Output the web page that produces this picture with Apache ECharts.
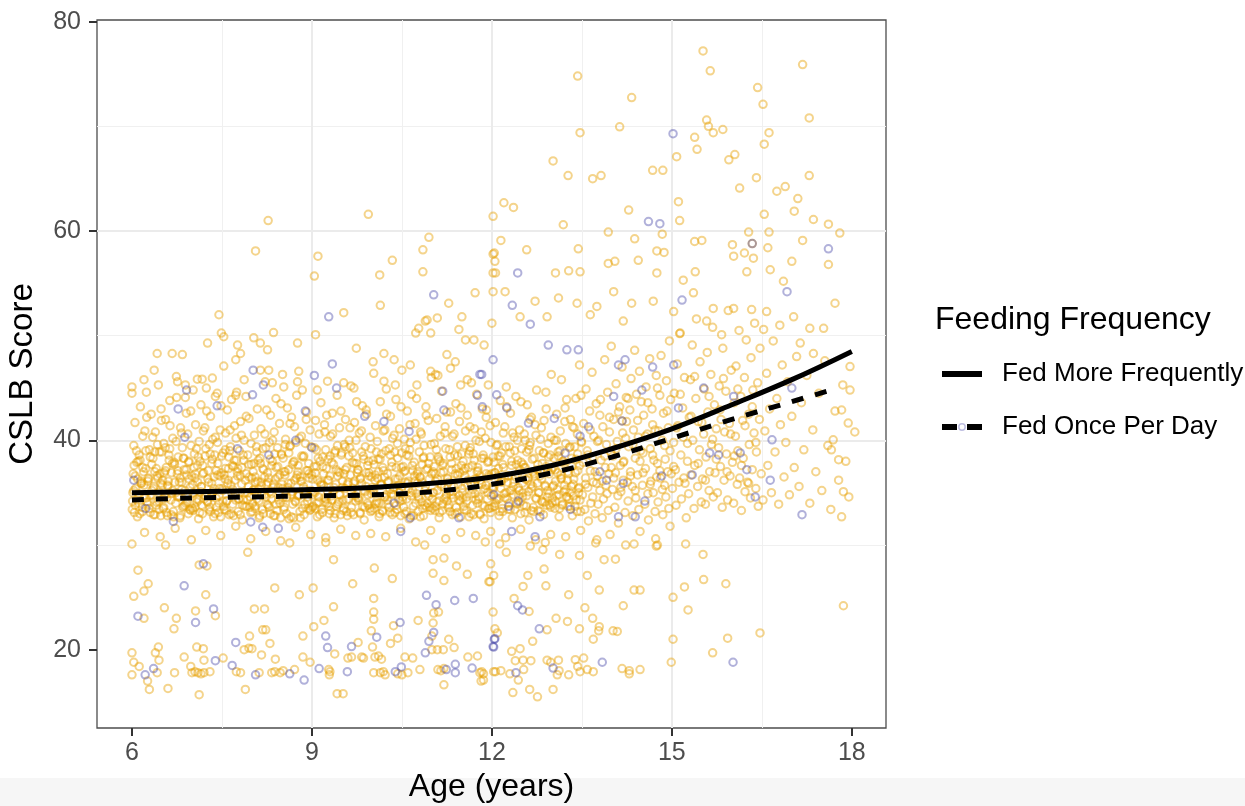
<!DOCTYPE html>
<html><head><meta charset="utf-8">
<script src="https://cdn.jsdelivr.net/npm/echarts@6/dist/echarts.min.js"></script>
<style>html,body{margin:0;padding:0;background:#fff}#c{width:1245px;height:806px}</style>
</head><body><div id="c"></div>
<script>
// ---- tick labels ----
const ageTicks = [6, 9, 12, 15, 18];
const scoreTicks = [20, 40, 60, 80];

// ---- fitted curves ----
const fitAgeMore = [6, 7, 8, 9, 10, 11, 12, 13, 14, 15, 16, 17, 18];
const fitMore    = [35.0, 35.1, 35.2, 35.3, 35.5, 35.9, 36.5, 37.6, 39.2, 41.1, 43.4, 45.8, 48.5];
const fitAgeOnce = [6, 7, 8, 9, 10, 11, 12, 13, 14, 15, 16, 17, 17.65];
const fitOnce    = [34.3, 34.5, 34.6, 34.7, 34.8, 35.1, 35.8, 36.9, 38.4, 40.2, 42.0, 43.7, 44.8];

// ---- Fed More Frequently: individual observations [age, score] ----
const fedMorePoints = [
[8.27,61.0],[8.06,58.1],[7.45,52.0],[9.1,57.6],[9.04,55.7],[9.94,61.6],[10.34,57.2],[10.13,55.8],[10.14,52.9],[9.53,52.2],[10.95,59.4],[10.85,58.2],[10.85,56.1],[11.28,53.1],[11.72,54.1],[11.5,51.8],[11.09,51.7],[10.92,51.5],[12.02,61.4],[12.02,57.8],[12.05,57.1],[12.02,56.0],[12.02,54.2],
[15.52,77.2],[15.64,75.3],[13.43,74.8],[14.33,72.75],[17.18,75.9],[16.43,73.7],[16.52,72.1],[17.29,70.8],[14.13,69.95],[13.47,69.4],[15.58,70.6],[15.61,70.0],[15.69,69.4],[15.85,69.7],[15.38,68.95],[15.42,67.8],[16.62,69.4],[16.54,68.3],[15.95,66.8],[16.05,67.3],[15.08,67.1],[13.02,66.7],[13.27,65.3],[13.68,65.0],[13.82,65.3],[14.68,65.8],[14.85,65.8],[16.41,65.1],[17.29,65.3],[16.13,64.1],[16.75,63.8],[16.89,64.25],[17.1,63.1],[17.04,61.9],[17.36,61.1],[17.61,60.65],[17.8,59.8],[16.54,61.6],[16.62,59.9],[16.6,58.4],[17.18,59.1],[16.28,59.9],[16.34,58.8],[16.21,57.9],[16.01,58.7],[15.38,59.0],[15.5,59.1],[15.11,62.8],[15.13,61.0],[14.84,59.7],[14.28,62.0],[14.38,59.25],[13.94,59.9],[13.19,60.6],[13.44,58.3],[14.75,58.1],[14.87,57.95],[12.58,58.2],[12.15,59.1],[12.2,62.7],[12.36,62.25],[12.04,57.9],
[12.06,56.0],[13.06,56.0],[13.28,56.2],[13.47,56.1],[13.94,56.9],[14.05,57.1],[14.44,57.2],[14.75,56.0],[15.19,55.3],[15.39,56.1],[16.03,57.6],[16.25,56.1],[16.36,57.4],[16.64,56.3],[17.0,57.1],[17.61,56.8],[16.86,55.2],[17.72,53.1],[12.22,54.2],[12.72,53.3],[13.11,53.6],[13.42,53.1],[13.75,52.8],[14.03,54.2],[14.33,53.1],[14.69,53.3],[15.03,52.3],[15.36,54.1],[15.69,52.6],[16.03,52.6],[16.33,52.5],[16.58,52.3],[17.03,51.8],[17.3,50.7],[17.53,50.7],[12.47,51.8],[12.92,51.8],[13.64,52.0],[14.19,51.4],[15.14,50.25],[15.58,51.4],[15.83,50.1],[16.53,50.6],[16.8,51.0],[17.14,49.3],[17.36,48.3],[17.97,47.05],[17.83,42.9],[17.94,41.65],[17.97,44.8],[17.69,40.05],[17.66,39.1],[17.78,38.15],[17.86,35.1],[17.83,32.7],[14.17,41.85],
[7.49,50.25],[7.53,49.9],[7.26,49.3],[6.42,48.3],[6.67,48.3],[6.84,48.2],[6.37,46.7],[6.2,45.8],[6.0,45.1],[6.0,44.5],[7.53,47.1],[7.73,47.7],[7.81,48.3],[7.76,49.1],[8.03,49.8],[8.14,49.3],[8.26,48.65],[8.36,50.3],[7.09,45.85],[7.17,45.85],[7.34,45.95],[6.89,45.3],[7.02,44.8],[6.76,45.6],[8.14,46.7],[8.28,46.7],[8.51,46.3],[8.76,45.6],[8.78,46.6],[9.06,50.1],[9.74,48.8],[10.02,47.5],[10.2,48.3],[10.37,47.7],[10.5,46.7],[10.64,47.2],[10.73,50.25],[10.78,50.7],[10.89,51.4],[10.98,50.25],[11.45,50.6],[11.56,49.6],[11.7,49.6],[11.87,49.1],[12.0,51.2],[11.25,48.2],[11.39,47.5],[10.98,46.6],[11.06,46.3],[11.1,46.2],[11.31,46.9],[11.48,45.3],[11.59,45.8],[11.94,45.3],[10.75,45.3],[10.39,45.3],[10.2,45.65],[10.03,46.4],[9.53,45.5],[9.26,45.65],[9.09,44.8],[9.7,45.0],[8.53,45.1],[8.34,45.5],[7.87,45.8],[7.73,44.3],[7.39,44.2],[8.76,49.3],
[6.0,30.1],[6.56,30.0],[6.1,27.6],[6.03,25.1],[6.2,25.6],[6.27,26.3],[6.2,23.0],[6.54,24.0],[6.74,23.0],[6.7,22.0],[7.06,23.7],[7.23,25.25],[7.12,28.1],[7.25,28.0],[7.39,23.25],[6.87,19.3],[6.0,19.7],[6.03,18.8],[6.0,17.6],[6.12,18.4],[6.26,17.0],[6.29,16.2],[6.44,20.25],[6.39,19.7],[6.45,19.0],[6.42,17.8],[6.6,16.3],[6.71,17.8],[7.0,17.8],[7.05,17.9],[7.1,17.8],[7.15,17.7],[7.2,17.8],[7.3,17.9],[7.08,20.25],[7.19,20.1],[7.12,15.7],[6.98,18.4],[7.2,19.0],[7.52,19.2],[7.74,17.9],[7.81,17.8],[7.87,20.0],[7.95,20.15],[8.0,20.1],[7.96,21.3],[7.93,29.3],[8.04,23.9],[8.21,23.9],[8.18,21.9],[8.23,21.9],[8.3,20.6],[8.16,19.5],[8.12,17.8],[7.89,16.2],[8.33,17.8],[8.38,17.9],[8.47,17.8],[8.39,19.1],[8.38,25.9],[8.63,30.2],[8.79,25.25],[8.85,21.3],[8.85,19.3],[8.71,18.1],[8.52,18.0],[8.97,18.8],[9.02,25.9],[9.03,22.2],[9.2,22.8],[9.23,30.25],[9.36,28.6],[9.36,24.1],[9.28,18.1],[9.3,17.9],[9.29,17.6],[9.38,19.6],[9.42,15.8],[9.52,15.8],[9.6,19.2],[9.66,19.3],[9.68,26.3],[9.77,20.7],[9.83,19.3],[9.86,19.2],[10.04,27.8],[10.03,24.9],[10.03,23.6],[10.03,22.9],[9.99,21.8],[10.01,20.25],[10.05,19.3],[10.11,19.4],[10.16,19.1],[10.03,17.8],[10.14,17.8],[10.19,17.9],[10.22,17.6],[10.34,26.8],[10.36,22.3],[10.31,20.6],[10.43,21.1],[10.43,17.7],[10.5,17.6],[10.6,17.8],[10.55,19.3],[10.68,19.2],[10.77,22.8],[10.8,18.1],[10.88,30.0],[11.0,21.3],[11.02,22.55],[11.03,23.5],[11.11,23.6],[11.02,28.6],[11.2,28.75],[11.2,26.6],[11.02,27.3],[11.41,28.0],[11.59,27.2],[11.95,26.5],[11.98,28.2],[11.28,21.0],[11.37,20.2],[11.0,20.0],[11.09,20.0],[11.19,20.0],[11.2,16.65],[11.1,18.1],[11.15,18.0],[11.2,18.2],[11.6,19.3],[11.76,19.4],[11.8,17.8],[11.86,17.7],[11.82,17.0],[12.03,17.9],[12.05,22.0],[12.02,23.6],
[11.89,30.3],[12.13,30.1],[12.64,29.9],[12.85,29.55],[12.89,30.25],[12.24,29.3],[13.13,29.1],[13.46,29.0],[13.75,30.5],[13.87,28.6],[14.06,28.65],[14.37,30.1],[14.74,29.9],[14.76,30.0],[15.23,30.1],[15.52,29.1],[12.03,27.1],[11.97,26.5],[12.6,27.1],[12.87,27.7],[12.9,26.1],[12.52,26.05],[13.59,27.1],[13.79,25.7],[14.37,25.7],[14.47,25.7],[15.02,25.0],[15.21,26.0],[15.53,26.7],[15.9,26.3],[15.27,23.8],[12.37,24.9],[12.62,23.65],[13.28,25.25],[13.55,24.0],[13.07,23.0],[13.26,22.7],[13.68,23.0],[14.19,24.2],[12.92,21.9],[13.46,22.0],[13.79,22.2],[13.78,21.8],[13.69,21.0],[14.02,21.8],[14.09,21.75],[12.68,20.8],[12.09,21.6],[12.33,19.85],[12.47,20.1],[12.39,18.95],[12.52,19.0],[12.65,18.95],[12.92,19.0],[12.98,18.8],[13.11,19.0],[13.39,19.05],[13.53,19.2],[13.43,18.4],[12.06,17.9],[12.15,18.0],[12.3,17.7],[11.83,17.9],[11.86,17.1],[12.53,18.1],[12.44,17.1],[12.35,15.9],[12.63,16.2],[12.76,15.5],[13.02,16.2],[13.09,17.6],[13.28,17.6],[13.12,18.0],[13.47,17.9],[13.59,18.1],[13.69,17.9],[14.17,18.2],[14.29,18.0],[14.29,17.7],[14.47,18.1],[14.99,18.8],[15.02,21.0],[15.68,19.7],[15.93,21.1],[16.47,21.6],[17.86,24.2],
[6.01,34.2],[6.02,36.8],[6.03,39.5],[6.04,33.1],[6.05,41.7],[6.06,35.4],[6.08,37.9],[6.09,32.7],[6.11,34.9],[6.12,38.6],[6.14,43.2],[6.15,36.1],[6.17,33.6],[6.18,40.4],[6.2,35.7],[6.21,31.2],[6.23,37.3],[6.24,44.6],
[6.26,33.9],[6.27,36.4],[6.29,39.1],[6.3,34.7],[6.32,42.5],[6.33,35.2],[6.35,38.3],[6.36,32.9],[6.38,37.0],[6.39,40.8],[6.41,34.1],[6.42,36.6],[6.44,45.3],[6.45,33.4],[6.46,38.9],[6.47,30.8],[6.48,35.9],[6.49,41.9],
[6.51,36.2],[6.52,33.5],[6.53,39.7],[6.55,34.8],[6.56,42.0],[6.57,37.4],[6.59,32.8],[6.6,35.6],[6.62,38.1],[6.63,43.8],[6.65,34.3],[6.66,36.9],[6.68,40.2],[6.69,33.2],[6.71,37.7],[6.72,31.6],[6.73,35.0],[6.74,46.1],
[6.76,34.6],[6.77,38.4],[6.79,36.0],[6.8,32.6],[6.81,41.2],[6.83,35.3],[6.84,39.3],[6.86,33.7],[6.87,37.2],[6.89,44.1],[6.9,34.0],[6.91,36.7],[6.93,40.6],[6.94,33.0],[6.95,38.0],[6.97,35.5],[6.98,42.8],[6.99,30.5],
[7.01,35.8],[7.02,33.3],[7.04,38.7],[7.05,36.4],[7.06,41.5],[7.08,34.4],[7.09,37.6],[7.11,32.5],[7.12,39.9],[7.14,35.1],[7.15,43.4],[7.16,33.8],[7.18,36.8],[7.19,40.9],[7.21,34.7],[7.22,38.5],[7.23,31.4],[7.24,45.0],
[7.26,34.1],[7.27,37.1],[7.29,39.6],[7.3,33.6],[7.31,42.3],[7.33,35.9],[7.34,38.2],[7.36,32.7],[7.37,36.5],[7.39,40.3],[7.4,34.5],[7.42,44.5],[7.43,37.8],[7.44,33.1],[7.46,35.4],[7.47,41.0],[7.48,30.9],[7.49,36.9],
[7.51,35.2],[7.52,38.8],[7.54,33.4],[7.55,36.3],[7.56,40.7],[7.58,34.2],[7.59,42.9],[7.61,37.3],[7.62,32.9],[7.64,39.4],[7.65,35.7],[7.66,43.9],[7.68,33.9],[7.69,37.5],[7.71,41.4],[7.72,34.9],[7.73,31.8],[7.74,38.1],
[7.76,36.6],[7.77,33.2],[7.79,39.0],[7.8,35.0],[7.81,41.8],[7.83,37.4],[7.84,32.4],[7.86,34.3],[7.87,40.0],[7.89,36.2],[7.9,44.2],[7.91,33.7],[7.93,38.6],[7.94,35.6],[7.95,42.1],[7.97,34.6],[7.98,30.6],[7.99,37.7],
[8.01,34.0],[8.02,37.0],[8.04,40.5],[8.05,33.5],[8.06,36.0],[8.08,38.9],[8.09,43.0],[8.11,35.3],[8.12,32.6],[8.14,37.8],[8.15,41.1],[8.16,34.8],[8.18,39.2],[8.19,33.0],[8.21,36.5],[8.22,45.6],[8.23,31.3],[8.24,35.8],
[8.26,36.9],[8.27,33.8],[8.29,39.8],[8.3,35.1],[8.31,42.4],[8.33,34.4],[8.34,38.0],[8.36,32.8],[8.37,40.8],[8.39,36.3],[8.4,44.0],[8.42,33.3],[8.43,37.5],[8.44,35.5],[8.46,41.6],[8.47,34.0],[8.48,30.4],[8.49,38.7],
[8.51,35.4],[8.52,38.3],[8.54,33.6],[8.55,36.7],[8.56,40.1],[8.58,34.5],[8.59,43.1],[8.61,37.2],[8.62,32.5],[8.64,39.5],[8.65,35.9],[8.66,42.2],[8.68,33.9],[8.69,37.9],[8.71,41.3],[8.72,34.2],[8.73,31.7],[8.74,36.4],
[8.76,34.7],[8.77,37.6],[8.79,40.2],[8.8,33.2],[8.81,36.1],[8.83,38.5],[8.84,44.8],[8.86,35.6],[8.87,32.9],[8.89,39.7],[8.9,34.9],[8.91,42.7],[8.93,37.1],[8.94,33.5],[8.95,36.8],[8.97,41.0],[8.98,31.0],[8.99,35.2],
[9.01,36.3],[9.02,33.7],[9.04,39.3],[9.05,35.0],[9.06,41.9],[9.08,37.5],[9.09,32.7],[9.11,34.6],[9.12,40.6],[9.14,36.0],[9.15,43.6],[9.16,33.4],[9.18,38.4],[9.19,35.7],[9.21,41.5],[9.22,34.1],[9.23,30.7],[9.24,37.3],
[9.26,35.1],[9.27,38.2],[9.29,33.0],[9.3,36.6],[9.31,40.4],[9.33,34.3],[9.34,42.6],[9.36,37.7],[9.37,32.6],[9.39,39.0],[9.4,35.8],[9.42,44.3],[9.43,33.9],[9.44,37.0],[9.46,41.2],[9.47,34.8],[9.48,31.5],[9.49,38.6],
[9.51,36.1],[9.52,33.3],[9.54,39.6],[9.55,35.4],[9.56,42.0],[9.58,37.4],[9.59,32.8],[9.61,34.4],[9.62,40.0],[9.64,36.7],[9.65,45.2],[9.66,33.6],[9.68,38.8],[9.69,35.9],[9.71,41.7],[9.72,34.7],[9.73,30.9],[9.74,37.8],
[9.76,34.5],[9.77,37.2],[9.79,40.7],[9.8,33.1],[9.81,36.4],[9.83,38.9],[9.84,43.3],[9.86,35.2],[9.87,32.4],[9.89,39.4],[9.9,35.6],[9.91,42.5],[9.93,37.6],[9.94,33.8],[9.95,36.9],[9.97,40.3],[9.98,31.1],[9.99,34.9],
[10.01,35.5],[10.02,38.1],[10.04,33.5],[10.05,36.2],[10.06,41.4],[10.08,34.0],[10.09,39.9],[10.11,37.0],[10.12,32.7],[10.14,43.7],[10.15,35.8],[10.16,38.7],[10.18,33.2],[10.19,40.9],[10.21,36.5],[10.22,34.6],[10.23,30.8],[10.24,44.9],
[10.26,36.8],[10.27,33.9],[10.29,39.2],[10.3,35.3],[10.31,42.3],[10.33,37.9],[10.34,32.9],[10.36,34.8],[10.37,40.5],[10.39,36.3],[10.4,43.9],[10.42,33.4],[10.43,38.3],[10.44,35.7],[10.46,41.1],[10.47,34.2],[10.48,31.6],[10.49,37.4],
[10.51,34.3],[10.52,37.5],[10.54,40.1],[10.55,33.0],[10.56,36.0],[10.58,38.6],[10.59,42.8],[10.61,35.4],[10.62,32.5],[10.64,39.8],[10.65,35.0],[10.66,44.4],[10.68,37.1],[10.69,33.7],[10.71,36.6],[10.72,41.6],[10.73,30.3],[10.74,34.9],
[10.76,35.9],[10.77,33.2],[10.79,38.9],[10.8,36.5],[10.81,40.8],[10.83,34.1],[10.84,37.7],[10.86,32.8],[10.87,39.5],[10.89,35.6],[10.9,43.2],[10.91,33.6],[10.93,37.3],[10.94,41.9],[10.95,34.7],[10.97,38.4],[10.98,31.4],[10.99,46.0],
[11.01,34.4],[11.02,37.0],[11.04,39.7],[11.05,33.3],[11.06,36.1],[11.08,42.1],[11.09,35.2],[11.11,38.2],[11.12,32.6],[11.14,40.4],[11.15,36.9],[11.16,44.7],[11.18,33.9],[11.19,37.8],[11.21,35.5],[11.22,41.3],[11.23,30.6],[11.24,34.8],
[11.26,36.4],[11.27,33.6],[11.29,39.1],[11.3,35.1],[11.31,42.7],[11.33,37.2],[11.34,32.9],[11.36,34.5],[11.37,40.6],[11.39,36.8],[11.4,43.5],[11.42,33.1],[11.43,38.5],[11.44,35.8],[11.46,41.8],[11.47,34.2],[11.48,31.2],[11.49,37.6],
[11.51,35.0],[11.52,38.0],[11.54,33.4],[11.55,36.6],[11.56,40.9],[11.58,34.6],[11.59,42.4],[11.61,37.4],[11.62,32.7],[11.64,39.3],[11.65,35.9],[11.66,45.5],[11.68,33.8],[11.69,38.7],[11.71,41.1],[11.72,34.9],[11.73,30.9],[11.74,36.3],
[11.76,34.0],[11.77,37.1],[11.79,39.9],[11.8,33.0],[11.81,36.2],[11.83,38.3],[11.84,43.0],[11.86,35.3],[11.87,32.5],[11.89,40.2],[11.9,35.7],[11.91,42.9],[11.93,37.9],[11.94,33.5],[11.95,36.7],[11.97,41.4],[11.98,31.3],[11.99,34.7],
[12.01,35.6],[12.02,38.4],[12.04,33.7],[12.05,36.9],[12.06,41.7],[12.08,34.3],[12.09,39.6],[12.11,37.3],[12.12,32.8],[12.14,43.8],[12.15,35.4],[12.16,38.8],[12.18,33.2],[12.19,40.7],[12.21,36.4],[12.22,34.5],[12.23,30.7],[12.24,45.1],
[12.26,36.0],[12.27,33.4],[12.29,39.4],[12.3,35.2],[12.31,42.6],[12.33,37.6],[12.34,32.6],[12.36,34.8],[12.37,40.3],[12.39,36.5],[12.4,44.2],[12.42,33.9],[12.43,38.1],[12.44,35.5],[12.46,41.0],[12.47,34.1],[12.48,31.5],[12.49,37.9],
[12.51,34.6],[12.52,37.7],[12.54,40.6],[12.55,33.1],[12.56,36.3],[12.58,38.9],[12.59,43.4],[12.61,35.1],[12.62,32.4],[12.64,39.8],[12.65,35.8],[12.66,42.2],[12.68,37.0],[12.69,33.6],[12.71,36.8],[12.72,41.5],[12.73,30.5],[12.74,34.4],
[12.76,35.9],[12.77,33.3],[12.79,39.0],[12.8,36.6],[12.81,40.1],[12.83,34.2],[12.84,37.8],[12.86,32.9],[12.87,41.9],[12.89,35.6],[12.9,44.6],[12.91,33.8],[12.93,37.2],[12.94,39.7],[12.95,34.9],[12.97,38.6],[12.98,31.0],[12.99,46.3],
[13.01,34.5],[13.02,37.4],[13.04,40.0],[13.05,33.5],[13.06,36.1],[13.08,42.5],[13.09,35.3],[13.11,38.5],[13.12,32.7],[13.14,40.9],[13.15,36.7],[13.16,45.8],[13.18,33.9],[13.19,38.0],[13.21,35.7],[13.22,43.1],[13.23,30.8],[13.24,34.6],
[13.26,36.2],[13.27,33.7],[13.29,39.3],[13.3,35.0],[13.31,42.0],[13.33,37.5],[13.34,32.8],[13.36,34.7],[13.37,41.2],[13.39,36.9],[13.4,44.0],[13.42,33.2],[13.43,38.7],[13.44,35.4],[13.46,47.2],[13.47,34.3],[13.48,31.4],[13.49,39.9],
[13.51,34.8],[13.52,37.9],[13.53,41.6],[13.55,33.4],[13.56,36.4],[13.57,44.9],[13.59,39.0],[13.6,35.5],[13.61,32.3],[13.63,42.8],[13.64,37.1],[13.65,34.0],[13.67,46.5],[13.68,38.4],[13.69,36.0],[13.7,40.4],[13.72,33.0],[13.73,30.2],[13.74,43.5],[13.745,35.9],
[13.76,36.6],[13.77,33.9],[13.78,40.0],[13.8,35.2],[13.81,43.9],[13.82,38.1],[13.84,32.6],[13.85,41.3],[13.86,34.4],[13.88,47.7],[13.89,37.4],[13.9,35.7],[13.91,39.6],[13.93,44.6],[13.94,33.3],[13.95,36.8],[13.96,42.2],[13.97,31.0],[13.98,38.9],[13.99,49.0],
[14.01,35.3],[14.02,38.5],[14.03,42.0],[14.05,33.6],[14.06,36.9],[14.07,45.4],[14.09,39.9],[14.1,34.7],[14.11,32.1],[14.13,43.2],[14.14,37.6],[14.15,35.1],[14.17,47.0],[14.18,40.7],[14.19,36.2],[14.2,38.0],[14.22,33.1],[14.23,30.0],[14.24,44.1],[14.245,41.8],
[14.26,36.0],[14.27,34.2],[14.28,39.4],[14.3,42.9],[14.31,37.0],[14.32,45.9],[14.34,35.6],[14.35,32.8],[14.36,41.0],[14.38,48.6],[14.39,38.3],[14.4,34.5],[14.41,44.4],[14.43,36.7],[14.44,40.3],[14.45,33.4],[14.46,46.6],[14.47,31.3],[14.48,39.0],[14.49,43.7],
[14.51,35.7],[14.52,38.8],[14.53,42.4],[14.55,33.9],[14.56,37.3],[14.57,45.1],[14.59,40.6],[14.6,34.9],[14.61,32.4],[14.63,47.8],[14.64,39.2],[14.65,36.1],[14.67,43.0],[14.68,41.5],[14.69,35.0],[14.7,38.1],[14.72,33.2],[14.73,30.6],[14.74,46.2],[14.745,36.5],
[14.76,37.8],[14.77,34.1],[14.78,40.9],[14.8,44.3],[14.81,36.4],[14.82,48.1],[14.84,35.3],[14.85,32.9],[14.86,42.6],[14.88,39.5],[14.89,38.2],[14.9,34.6],[14.91,45.7],[14.93,37.0],[14.94,41.2],[14.95,33.5],[14.96,49.5],[14.97,31.8],[14.98,43.9],[14.99,36.8],
[15.01,35.4],[15.03,39.8],[15.04,44.5],[15.06,37.2],[15.07,33.8],[15.09,47.3],[15.1,41.4],[15.12,36.0],[15.13,50.2],[15.15,38.6],[15.16,34.4],[15.18,43.1],[15.19,40.3],[15.21,46.0],[15.22,35.9],[15.24,32.6],
[15.26,38.0],[15.28,34.9],[15.29,42.2],[15.31,45.8],[15.32,36.7],[15.34,49.1],[15.35,40.0],[15.37,33.5],[15.38,37.6],[15.4,44.0],[15.41,51.6],[15.43,35.6],[15.44,41.8],[15.46,39.1],[15.47,47.5],[15.49,34.1],
[15.51,36.3],[15.53,40.6],[15.54,44.9],[15.56,33.9],[15.57,38.4],[15.59,48.4],[15.6,42.7],[15.62,35.2],[15.63,37.0],[15.65,46.3],[15.66,39.6],[15.68,50.8],[15.69,34.6],[15.71,43.4],[15.72,36.9],[15.74,41.1],
[15.76,35.0],[15.78,39.3],[15.79,45.2],[15.81,37.5],[15.82,42.0],[15.84,33.6],[15.85,48.8],[15.87,36.2],[15.88,40.8],[15.9,44.7],[15.91,38.7],[15.93,34.3],[15.94,52.4],[15.96,41.6],[15.97,36.6],[15.99,46.7],
[16.01,37.9],[16.03,34.0],[16.04,43.6],[16.06,40.4],[16.07,47.1],[16.09,35.8],[16.1,39.0],[16.12,50.5],[16.13,36.4],[16.15,44.2],[16.16,33.3],[16.18,41.9],[16.19,38.3],[16.21,46.0],[16.22,35.1],[16.24,49.6],
[16.26,36.0],[16.28,42.5],[16.29,39.6],[16.31,34.5],[16.32,47.9],[16.34,37.2],[16.35,44.8],[16.37,40.7],[16.38,51.2],[16.4,35.4],[16.41,38.9],[16.43,45.5],[16.44,33.7],[16.46,42.0],[16.47,48.8],[16.49,36.8],
[16.52,34.3],[16.55,40.9],[16.58,46.4],[16.6,37.6],[16.63,43.0],[16.66,35.0],[16.69,49.5],[16.72,38.9],[16.75,44.0],[16.78,33.9],[16.81,41.5],[16.84,47.2],[16.87,36.5],[16.9,39.8],[16.93,45.6],[16.96,34.8],[17.0,42.3],[17.04,37.4],[17.08,48.0],[17.12,35.6],[17.16,43.6],[17.2,39.1],[17.25,46.2],[17.3,34.0],[17.35,41.0],[17.4,37.0],[17.45,44.5],[17.5,35.2],[17.55,47.6],[17.6,39.5],[17.65,33.4],[17.72,42.8],[17.78,36.2],[17.85,45.3],[17.9,38.0],[17.95,34.6],[18.05,40.8],
[6.015,35.0],[6.035,37.6],[6.055,33.8],[6.075,39.0],[6.095,36.3],[6.115,34.0],[6.135,38.1],[6.155,35.9],[6.175,33.2],[6.195,37.0],[6.215,40.9],[6.235,34.5],[6.245,42.2],
[6.265,36.1],[6.285,33.5],[6.305,38.4],[6.325,34.8],[6.345,40.3],[6.365,35.6],[6.385,32.9],[6.405,37.3],[6.425,39.6],[6.445,34.2],[6.465,36.8],[6.485,43.0],[6.495,38.9],
[6.515,34.4],[6.535,36.9],[6.555,39.3],[6.575,33.1],[6.595,35.7],[6.615,38.6],[6.635,41.4],[6.655,34.9],[6.675,37.8],[6.695,32.7],[6.715,36.0],[6.735,39.9],[6.745,44.1],
[6.765,37.1],[6.785,34.6],[6.805,36.4],[6.825,40.7],[6.845,33.6],[6.865,38.3],[6.885,35.2],[6.905,42.6],[6.925,34.1],[6.945,37.9],[6.965,33.4],[6.985,39.5],[6.995,36.6],
[7.015,34.9],[7.035,37.4],[7.055,33.6],[7.075,39.2],[7.095,36.0],[7.115,34.3],[7.135,38.0],[7.155,35.6],[7.175,33.0],[7.195,36.9],[7.215,41.2],[7.235,34.7],[7.245,42.8],
[7.265,36.3],[7.285,33.4],[7.305,38.7],[7.325,34.6],[7.345,40.1],[7.365,35.4],[7.385,33.0],[7.405,37.1],[7.425,39.8],[7.445,34.0],[7.465,36.6],[7.485,43.3],[7.495,38.5],
[7.515,34.2],[7.535,36.7],[7.555,39.1],[7.575,33.3],[7.595,35.9],[7.615,38.4],[7.635,41.0],[7.655,35.1],[7.675,37.6],[7.695,32.8],[7.715,36.2],[7.735,40.2],[7.745,44.6],
[7.765,37.3],[7.785,34.4],[7.805,36.6],[7.825,40.5],[7.845,33.8],[7.865,38.1],[7.885,35.0],[7.905,42.3],[7.925,34.3],[7.945,37.7],[7.965,33.6],[7.985,39.7],[7.995,36.4],
[8.015,35.2],[8.035,37.8],[8.055,33.7],[8.075,39.4],[8.095,36.1],[8.115,34.2],[8.135,38.3],[8.155,35.7],[8.175,33.4],[8.195,37.2],[8.215,40.6],[8.235,34.6],[8.245,42.9],
[8.265,36.0],[8.285,33.6],[8.305,38.2],[8.325,34.9],[8.345,40.0],[8.365,35.8],[8.385,32.8],[8.405,37.4],[8.425,39.3],[8.445,34.3],[8.465,36.7],[8.485,43.5],[8.495,38.6],
[8.515,34.5],[8.535,37.0],[8.555,39.6],[8.575,33.0],[8.595,35.5],[8.615,38.8],[8.635,41.6],[8.655,34.8],[8.675,37.7],[8.695,32.6],[8.715,36.2],[8.735,39.8],[8.745,44.3],
[8.765,37.0],[8.785,34.7],[8.805,36.5],[8.825,40.4],[8.845,33.5],[8.865,38.5],[8.885,35.3],[8.905,42.0],[8.925,34.2],[8.945,37.8],[8.965,33.3],[8.985,39.4],[8.995,36.7],
[9.015,34.8],[9.035,37.5],[9.055,33.5],[9.075,39.1],[9.095,36.2],[9.115,34.1],[9.135,38.0],[9.155,35.8],[9.175,33.1],[9.195,36.8],[9.215,40.8],[9.235,34.4],[9.245,42.4],
[9.265,36.2],[9.285,33.7],[9.305,38.5],[9.325,34.7],[9.345,40.6],[9.365,35.5],[9.385,33.0],[9.405,37.2],[9.425,39.5],[9.445,34.1],[9.465,36.9],[9.485,42.8],[9.495,38.8],
[9.515,34.3],[9.535,36.8],[9.555,39.4],[9.575,33.2],[9.595,35.8],[9.615,38.5],[9.635,41.2],[9.655,35.0],[9.675,37.9],[9.695,32.9],[9.715,36.1],[9.735,40.0],[9.745,43.7],
[9.765,37.2],[9.785,34.5],[9.805,36.3],[9.825,40.9],[9.845,33.7],[9.865,38.2],[9.885,35.1],[9.905,42.9],[9.925,34.0],[9.945,38.0],[9.965,33.5],[9.985,39.2],[9.995,36.5],
[10.015,35.1],[10.035,37.7],[10.055,33.9],[10.075,38.9],[10.095,36.4],[10.115,34.0],[10.135,38.2],[10.155,35.7],[10.175,33.3],[10.195,37.1],[10.215,41.0],[10.235,34.8],[10.245,42.5],
[10.265,36.0],[10.285,33.6],[10.305,38.6],[10.325,34.9],[10.345,40.2],[10.365,35.5],[10.385,33.1],[10.405,37.4],[10.425,39.7],[10.445,34.4],[10.465,36.6],[10.485,43.2],[10.495,38.8],
[10.515,34.6],[10.535,37.0],[10.555,39.2],[10.575,33.2],[10.595,35.9],[10.615,38.5],[10.635,41.5],[10.655,34.7],[10.675,37.6],[10.695,32.8],[10.715,36.1],[10.735,40.1],[10.745,44.0],
[10.765,37.0],[10.785,34.4],[10.805,36.5],[10.825,40.6],[10.845,33.5],[10.865,38.4],[10.885,35.2],[10.905,42.4],[10.925,34.0],[10.945,37.8],[10.965,33.6],[10.985,39.6],[10.995,36.8],
[11.015,35.0],[11.035,37.5],[11.055,33.7],[11.075,39.1],[11.095,36.3],[11.115,34.2],[11.135,38.0],[11.155,35.8],[11.175,33.3],[11.195,37.0],[11.215,40.7],[11.235,34.6],[11.245,42.7],
[11.265,36.3],[11.285,33.8],[11.305,38.4],[11.325,34.8],[11.345,40.4],[11.365,35.6],[11.385,33.0],[11.405,37.3],[11.425,39.4],[11.445,34.3],[11.465,36.9],[11.485,43.1],[11.495,38.7],
[11.515,34.5],[11.535,37.1],[11.555,39.5],[11.575,33.3],[11.595,35.7],[11.615,38.7],[11.635,41.3],[11.655,34.9],[11.675,37.6],[11.695,32.9],[11.715,36.3],[11.735,40.0],[11.745,44.4],
[11.765,37.4],[11.785,34.6],[11.805,36.6],[11.825,40.8],[11.845,33.8],[11.865,38.3],[11.885,35.4],[11.905,42.2],[11.925,34.4],[11.945,38.0],[11.965,33.5],[11.985,39.8],[11.995,36.8],
[12.015,35.3],[12.035,37.9],[12.055,34.0],[12.075,39.5],[12.095,36.5],[12.115,34.4],[12.135,38.5],[12.155,36.0],[12.175,33.5],[12.195,37.4],[12.215,41.3],[12.235,35.0],[12.245,43.2],
[12.265,36.6],[12.285,34.0],[12.305,38.8],[12.325,35.2],[12.345,40.7],[12.365,36.0],[12.385,33.4],[12.405,37.7],[12.425,40.0],[12.445,34.7],[12.465,37.2],[12.485,43.7],[12.495,39.2],
[12.515,35.0],[12.535,37.4],[12.555,40.0],[12.575,33.7],[12.595,36.2],[12.615,39.1],[12.635,42.0],[12.655,35.4],[12.675,38.2],[12.695,33.2],[12.715,36.6],[12.735,40.5],[12.745,44.8],
[12.765,37.7],[12.785,35.0],[12.805,37.0],[12.825,41.2],[12.845,34.1],[12.865,38.8],[12.885,35.7],[12.905,43.0],[12.925,34.6],[12.945,38.4],[12.965,33.8],[12.985,40.3],[12.995,37.2],
[13.015,35.6],[13.035,38.3],[13.055,34.2],[13.075,40.0],[13.095,36.9],[13.115,34.8],[13.135,39.0],[13.155,36.4],[13.175,33.8],[13.195,37.8],[13.215,41.8],[13.235,35.3],[13.245,43.9],
[13.265,37.0],[13.285,34.4],[13.305,39.4],[13.325,35.6],[13.345,41.3],[13.365,36.3],[13.385,33.7],[13.405,38.2],[13.425,40.6],[13.445,35.0],[13.465,37.6],[13.485,44.3],[13.495,39.8],
[13.56,35.8],[13.6,38.6],[13.64,41.0],[13.68,34.6],[13.72,37.0],[13.76,39.9],[13.8,42.4],[13.84,36.1],[13.88,38.5],[13.92,34.9],[13.96,40.8],[13.99,37.4],
[14.03,36.4],[14.07,39.2],[14.11,42.7],[14.15,35.5],[14.19,37.9],[14.23,40.2],[14.27,44.0],[14.31,36.6],[14.35,39.6],[14.39,35.2],[14.43,41.9],[14.47,38.0],
[14.52,36.9],[14.56,40.4],[14.6,43.6],[14.64,35.8],[14.68,38.6],[14.72,41.0],[14.76,45.0],[14.8,37.1],[14.84,40.0],[14.88,35.7],[14.92,42.8],[14.97,39.0],
[15.03,37.5],[15.08,41.2],[15.14,44.4],[15.2,36.4],[15.26,39.7],[15.32,42.3],[15.38,46.1],[15.44,37.8],[15.5,41.7],[15.56,36.2],[15.62,44.2],[15.68,40.1],
[15.74,38.2],[15.8,42.9],[15.86,45.9],[15.92,37.0],[15.98,40.6],[16.04,38.5],[16.1,44.9],[16.16,37.6],[16.22,41.4],[16.28,35.9],[16.34,43.2],[16.4,39.8],
[6.005,33.4],[6.03,35.2],[6.055,36.6],[6.08,34.3],[6.105,38.0],[6.13,33.0],[6.155,35.9],[6.18,37.4],[6.205,34.7],[6.23,39.0],
[6.255,34.1],[6.28,36.3],[6.305,33.1],[6.33,37.7],[6.355,35.4],[6.38,38.9],[6.405,33.8],[6.43,36.4],[6.455,35.0],[6.48,32.8],
[6.505,35.7],[6.53,33.6],[6.555,37.1],[6.58,34.5],[6.605,36.1],[6.63,39.2],[6.655,32.9],[6.68,35.2],[6.705,37.9],[6.73,34.0],
[6.755,36.8],[6.78,34.7],[6.805,32.8],[6.83,36.0],[6.855,38.3],[6.88,33.8],[6.905,37.2],[6.93,34.9],[6.955,36.3],[6.98,33.3],
[7.005,33.5],[7.03,35.0],[7.055,36.8],[7.08,34.1],[7.105,38.4],[7.13,33.1],[7.155,35.6],[7.18,37.6],[7.205,34.4],[7.23,39.2],
[7.255,34.2],[7.28,36.0],[7.305,33.2],[7.33,37.8],[7.355,35.1],[7.38,38.6],[7.405,33.6],[7.43,36.7],[7.455,34.7],[7.48,32.7],
[7.505,35.4],[7.53,33.7],[7.555,37.3],[7.58,34.2],[7.605,36.2],[7.63,39.0],[7.655,33.0],[7.68,35.3],[7.705,38.1],[7.73,34.3],
[7.755,37.0],[7.78,34.4],[7.805,32.9],[7.83,35.8],[7.855,38.6],[7.88,33.7],[7.905,36.8],[7.93,35.0],[7.955,36.5],[7.98,33.1],
[8.005,33.2],[8.03,35.3],[8.055,36.5],[8.08,34.4],[8.105,38.1],[8.13,32.8],[8.155,36.0],[8.18,37.3],[8.205,34.8],[8.23,39.3],
[8.255,33.9],[8.28,36.4],[8.305,33.0],[8.33,37.6],[8.355,35.5],[8.38,38.7],[8.405,33.9],[8.43,36.5],[8.455,35.1],[8.48,32.6],
[8.505,35.8],[8.53,33.4],[8.555,37.0],[8.58,34.6],[8.605,35.9],[8.63,39.4],[8.655,32.7],[8.68,35.1],[8.705,38.0],[8.73,34.1],
[8.755,36.7],[8.78,34.8],[8.805,32.6],[8.83,36.1],[8.855,38.4],[8.88,33.9],[8.905,37.1],[8.93,34.6],[8.955,36.4],[8.98,33.4],
[9.005,33.6],[9.03,35.1],[9.055,36.9],[9.08,34.0],[9.105,38.3],[9.13,32.9],[9.155,35.7],[9.18,37.5],[9.205,34.5],[9.23,39.1],
[9.255,34.0],[9.28,36.2],[9.305,33.3],[9.33,37.9],[9.355,35.2],[9.38,38.8],[9.405,33.7],[9.43,36.6],[9.455,34.8],[9.48,32.9],
[9.505,35.5],[9.53,33.5],[9.555,37.2],[9.58,34.3],[9.605,36.0],[9.63,39.3],[9.655,33.1],[9.68,35.4],[9.705,37.8],[9.73,34.2],
[9.755,36.9],[9.78,34.3],[9.805,33.0],[9.83,35.9],[9.855,38.5],[9.88,33.6],[9.905,36.9],[9.93,34.8],[9.955,36.6],[9.98,33.2],
[10.005,33.3],[10.03,35.2],[10.055,36.7],[10.08,34.2],[10.105,38.2],[10.13,33.0],[10.155,35.8],[10.18,37.4],[10.205,34.6],[10.23,39.0],
[10.255,34.3],[10.28,36.1],[10.305,33.1],[10.33,37.5],[10.355,35.3],[10.38,38.9],[10.405,33.8],[10.43,36.3],[10.455,35.0],[10.48,32.8],
[10.505,35.6],[10.53,33.6],[10.555,37.1],[10.58,34.4],[10.605,36.1],[10.63,39.1],[10.655,32.8],[10.68,35.2],[10.705,37.9],[10.73,34.0],
[10.755,36.8],[10.78,34.6],[10.805,32.7],[10.83,36.0],[10.855,38.3],[10.88,33.8],[10.905,37.2],[10.93,34.9],[10.955,36.3],[10.98,33.3],
[11.005,33.5],[11.03,35.0],[11.055,36.8],[11.08,34.1],[11.105,38.4],[11.13,33.1],[11.155,35.6],[11.18,37.6],[11.205,34.4],[11.23,39.2],
[11.255,34.2],[11.28,36.0],[11.305,33.2],[11.33,37.8],[11.355,35.1],[11.38,38.6],[11.405,33.6],[11.43,36.7],[11.455,34.7],[11.48,32.7],
[11.505,35.4],[11.53,33.7],[11.555,37.3],[11.58,34.2],[11.605,36.2],[11.63,39.0],[11.655,33.0],[11.68,35.3],[11.705,38.1],[11.73,34.3],
[11.755,37.0],[11.78,34.4],[11.805,32.9],[11.83,35.8],[11.855,38.6],[11.88,33.7],[11.905,36.8],[11.93,35.0],[11.955,36.5],[11.98,33.1],
[12.005,33.6],[12.03,35.5],[12.055,36.9],[12.08,34.5],[12.105,38.5],[12.13,33.2],[12.155,36.1],[12.18,37.7],[12.205,34.9],[12.23,39.4],
[12.255,34.4],[12.28,36.6],[12.305,33.4],[12.33,38.0],[12.355,35.6],[12.38,39.0],[12.405,34.0],[12.43,36.8],[12.455,35.2],[12.48,33.0],
[12.505,35.9],[12.53,33.8],[12.555,37.4],[12.58,34.7],[12.605,36.4],[12.63,39.5],[12.655,33.3],[12.68,35.6],[12.705,38.3],[12.73,34.5],
[12.755,37.2],[12.78,35.0],[12.805,33.2],[12.83,36.3],[12.855,38.8],[12.88,34.1],[12.905,37.5],[12.93,35.2],[12.955,36.8],[12.98,33.6],
[13.005,34.0],[13.03,35.7],[13.055,37.2],[13.08,34.7],[13.105,38.9],[13.13,33.5],[13.155,36.3],[13.18,38.0],[13.205,35.1],[13.23,39.7],
[13.255,34.6],[13.28,36.8],[13.305,33.7],[13.33,38.3],[13.355,35.8],[13.38,39.4],[13.405,34.3],[13.43,37.1],[13.455,35.5],[13.48,33.2]
];

// ---- Fed Once Per Day: individual observations [age, score] ----
const fedOncePoints = [
[9.28,51.8],[11.03,53.9],[15.02,69.3],[14.61,60.9],[14.8,60.7],[17.61,58.3],[16.34,58.8],[12.43,56.0],[16.92,54.2],[15.17,53.4],[12.34,52.9],[12.64,51.1],[17.17,32.9],[17.0,45.0],[16.67,40.05],[16.64,36.2],[16.39,34.6],[15.78,38.6],[15.63,38.8],[16.25,37.2],[16.14,38.8],[16.03,44.2],[15.53,45.0],[15.11,43.1],[14.68,47.0],[14.22,47.7],[14.11,47.2],[15.03,47.2],[15.34,36.7],[14.83,36.6],[14.39,32.7],[14.11,32.7],[12.8,32.7],[12.33,31.3],[12.72,30.8],[12.02,47.7],[11.83,46.3],[12.94,49.1],[13.25,48.65],[13.44,48.65],[12.25,43.1],[12.61,41.65],[13.04,42.1],[13.61,41.3],[14.03,44.2],[14.17,41.85],[14.5,44.8],[13.22,38.8],[13.47,40.4],[13.8,37.0],[13.91,36.2],[14.19,35.9],[14.55,34.2],[13.31,33.4],[12.44,34.2],[12.03,34.8],[12.28,33.7],[12.08,44.35],
[9.34,47.3],[8.19,45.3],[8.02,46.7],[6.91,44.8],[6.77,43.0],[7.42,43.3],[6.88,40.3],[8.01,44.35],[8.89,42.8],[9.41,45.0],[9.04,46.2],[9.88,42.3],[10.2,41.8],[11.18,44.7],[11.76,44.3],[11.84,43.2],[11.8,46.3],[11.2,42.9],[10.62,40.85],[7.76,39.2],[8.28,38.6],[8.73,40.0],[9.0,39.3],[8.44,31.6],[8.18,31.7],[7.98,32.2],[10.48,31.3],[10.64,32.6],[11.45,32.6],[6.69,32.25],[6.23,33.5],[6.03,36.2],[10.37,34.0],
[6.1,23.2],[6.87,26.1],[7.06,22.6],[7.19,28.2],[7.36,23.9],[7.39,18.95],[6.36,18.2],[6.22,17.6],[7.73,20.7],[7.67,18.5],[8.06,17.6],[8.63,17.7],[8.87,17.1],[9.23,21.3],[9.26,20.2],[9.12,18.2],[9.59,17.9],[9.66,20.3],[10.08,21.2],[10.39,17.9],[10.47,22.6],[10.49,18.35],[10.89,19.7],[10.95,20.8],[10.91,25.2],[11.07,24.3],[11.03,21.65],[11.38,24.7],[11.69,24.9],[11.24,18.1],[11.39,18.6],[11.39,17.8],[11.67,18.25],[12.02,20.3],[12.04,21.0],[12.43,24.2],[12.51,23.8],[12.79,22.0],[12.05,21.05],[12.03,20.25],[13.84,18.8],[13.02,18.25],[12.4,17.8],[16.02,18.8]
];

const FONT = '"Liberation Sans", Arial, Helvetica, sans-serif';
const ORANGE = '#E69F00';
const BLUE = '#4545A8';

const chart = echarts.init(document.getElementById('c'), null, {renderer: 'canvas'});
const zip = (xs, ys) => xs.map((x, i) => [x, ys[i]]);

const option = {
  animation: false,
  backgroundColor: '#ffffff',
  textStyle: {fontFamily: FONT},
  graphic: [{
    type: 'rect', left: 0, top: 778, z: -10,
    shape: {width: 1245, height: 28},
    style: {fill: '#f6f6f6'}
  }],
  title: {
    text: 'Feeding Frequency', left: 935, top: 304, padding: 0,
    textStyle: {fontFamily: FONT, fontSize: 32, fontWeight: 'normal', color: '#000'}
  },
  legend: {
    orient: 'vertical', left: 939, top: 361, padding: 0,
    itemWidth: 40, itemHeight: 8, itemGap: 27,
    textStyle: {fontFamily: FONT, fontSize: 26, color: '#000', padding: [0, 0, 0, 15]},
    lineStyle: {width: 6},
    data: [
      {name: 'Fed More Frequently', itemStyle: {color: 'rgba(0,0,0,0)', borderWidth: 0}},
      {name: 'Fed Once Per Day', itemStyle: {color: 'rgba(0,0,0,0)', borderColor: 'rgba(69,69,168,0.35)', borderWidth: 1.5},
       lineStyle: {type: [15, 10], width: 6}}
    ]
  },
  grid: {left: 97, right: 359, top: 20, bottom: 78, show: true, borderColor: '#4d4d4d', borderWidth: 1.3,
         backgroundColor: 'rgba(0,0,0,0)', containLabel: false, outerBoundsMode: 'none'},
  xAxis: {
    type: 'value', min: 5.417, max: 18.57, splitNumber: 5,
    axisLine: {show: false},
    axisTick: {show: true, length: 8, lineStyle: {color: '#333', width: 2}, customValues: ageTicks},
    axisLabel: {color: '#4d4d4d', fontSize: 25, margin: 13, fontFamily: FONT, customValues: ageTicks},
    splitLine: {show: true, showMinLine: false, showMaxLine: false, lineStyle: {color: '#ebebeb', width: 2}},
    minorTick: {show: false, splitNumber: 2},
    minorSplitLine: {show: true, lineStyle: {color: '#f0f0f0', width: 1}},
    name: 'Age (years)', nameLocation: 'middle', nameGap: 33,
    nameTextStyle: {color: '#000', fontSize: 32, fontFamily: FONT}
  },
  yAxis: {
    type: 'value', min: 12.52, max: 80.16, splitNumber: 3,
    axisLine: {show: false},
    axisTick: {show: true, length: 8, lineStyle: {color: '#333', width: 2}, customValues: scoreTicks},
    axisLabel: {color: '#4d4d4d', fontSize: 25, margin: 16, fontFamily: FONT, customValues: scoreTicks},
    splitLine: {show: true, showMinLine: false, showMaxLine: false, lineStyle: {color: '#ebebeb', width: 2}},
    minorTick: {show: false, splitNumber: 2},
    minorSplitLine: {show: true, lineStyle: {color: '#f0f0f0', width: 1}},
    name: 'CSLB Score', nameLocation: 'middle', nameGap: 58,
    nameTextStyle: {color: '#000', fontSize: 33, fontFamily: FONT}
  },
  series: [
    {
      name: 'Fed More Frequently (points)', type: 'scatter', data: fedMorePoints,
      symbol: 'circle', symbolSize: 7.5, z: 2, silent: true, large: false,
      itemStyle: {color: 'rgba(0,0,0,0)', borderColor: ORANGE, borderWidth: 2, opacity: 0.45}
    },
    {
      name: 'Fed Once Per Day (points)', type: 'scatter', data: fedOncePoints,
      symbol: 'circle', symbolSize: 7.5, z: 3, silent: true,
      itemStyle: {color: 'rgba(0,0,0,0)', borderColor: BLUE, borderWidth: 2, opacity: 0.42}
    },
    {
      name: 'Fed More Frequently', type: 'line', data: zip(fitAgeMore, fitMore),
      symbol: 'none', smooth: 0.4, z: 5, silent: true,
      lineStyle: {color: '#000', width: 5, cap: 'butt'}, itemStyle: {color: '#000'}
    },
    {
      name: 'Fed Once Per Day', type: 'line', data: zip(fitAgeOnce, fitOnce),
      symbol: 'none', smooth: 0.4, z: 5, silent: true,
      lineStyle: {color: '#000', width: 5, type: [12, 12], cap: 'butt'}, itemStyle: {color: '#000'}
    }
  ]
};
chart.setOption(option);
</script>
</body></html>
